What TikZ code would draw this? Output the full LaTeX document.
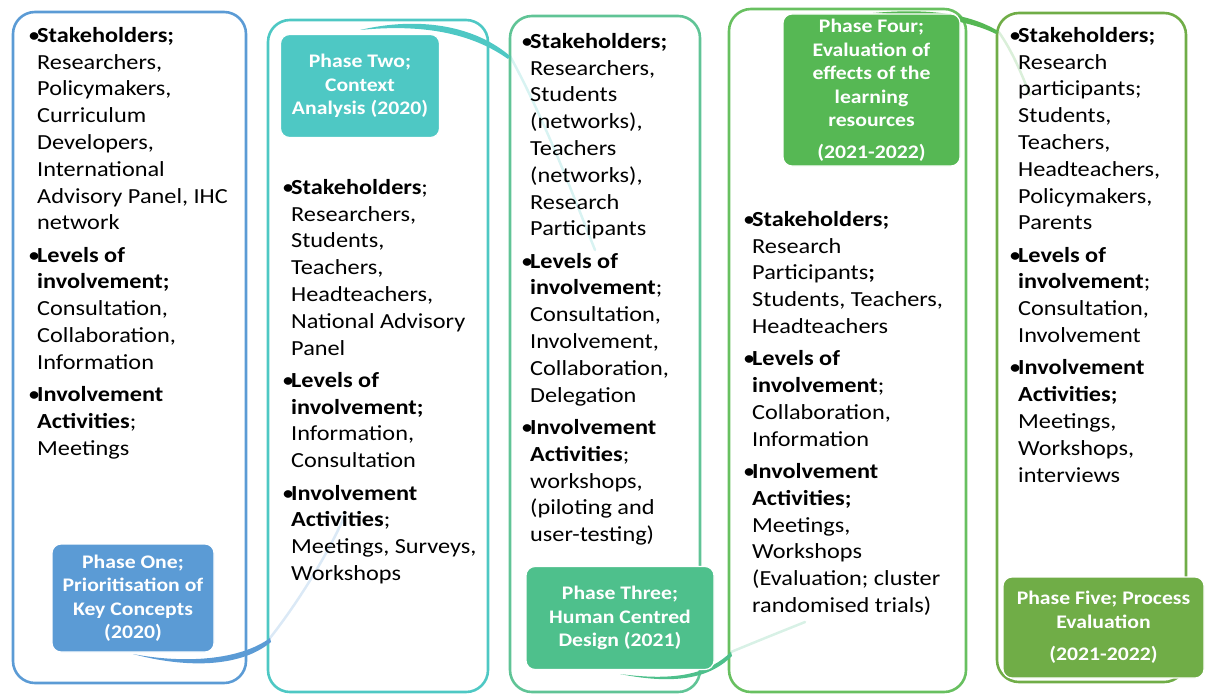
\documentclass[tikz,border=0pt]{standalone}
\usepackage{fontspec}
\setmainfont{Carlito}[FakeStretch=1.13]
\definecolor{cBlue}{RGB}{91,155,213}
\definecolor{cTeal}{RGB}{78,200,196}
\definecolor{cSea}{RGB}{78,192,140}
\definecolor{cGreen}{RGB}{86,184,84}
\definecolor{cLeaf}{RGB}{112,173,71}
\definecolor{cBoxThree}{RGB}{96,196,150}
\definecolor{cBoxFour}{RGB}{104,192,96}
\newcommand{\bul}{\makebox[9pt][l]{\textbullet}}
\newcommand{\ind}{\hspace*{9pt}}
\newcommand{\bodyfont}{\fontsize{21.5}{26.8}\selectfont}
\newcommand{\phasefont}{\fontsize{19.2}{23.5}\selectfont\bfseries}
\begin{document}
\begin{tikzpicture}[x=1pt,y=-1pt,
  container/.style={draw=#1, line width=2.6pt, rounded corners=22pt},
  phase/.style={fill=#1, draw=white, line width=1.2pt, rounded corners=9pt,
    text=white, font=\phasefont, align=center, inner sep=0pt},
  column/.style={anchor=north west, inner sep=0pt, align=left, font=\bodyfont},
  band/.style={fill=#1, draw=none},
  faint/.style={draw=#1, line width=2.5pt, opacity=0.22, line cap=round}]
\useasboundingbox (0,0) rectangle (1206,693);

% stage containers
\draw[container=cBlue] (13,12) rectangle (246,683);
\draw[container=cTeal] (268,20) rectangle (488,692);
\draw[container=cBoxThree] (510,16) rectangle (700,692);
\draw[container=cBoxFour] (729,9) rectangle (966,692);
\draw[container=cLeaf] (997,13) rectangle (1186,682);

% named ends of the linking bands
\coordinate (l1a) at (133,654);
\coordinate (l1b) at (270,638);
\coordinate (l2a) at (360,30);
\coordinate (l2b) at (510,56);
\coordinate (l3a) at (620,674);
\coordinate (l3b) at (731,652);
\coordinate (l4a) at (873,13);
\coordinate (l4b) at (998,31);
\coordinate (f1) at (345,515);
\coordinate (f2) at (595,250);
\coordinate (f3) at (805,622);
\coordinate (f4) at (1030,95);

% faint continuations inside the next stage
\draw[faint=cBlue] (l1b) .. controls (300,600) and (330,550) .. (f1);
\draw[faint=cTeal] (l2b) .. controls (545,120) and (575,200) .. (f2);
\draw[faint=cSea] (l3b) .. controls (760,640) and (785,630) .. (f3);
\draw[faint=cGreen] (l4b) .. controls (1012,50) and (1022,75) .. (f4);

% linking bands between phases
\fill[band=cBlue] (l1a) .. controls (185,664) and (240,660) .. (l1b)
  -- (271,642) .. controls (240,668) and (185,668) .. (l1a) -- cycle;
\fill[band=cTeal] (l2a) .. controls (420,16) and (475,26) .. (l2b)
  -- (508,59) .. controls (470,32) and (420,24) .. (l2a) -- cycle;
\fill[band=cSea] (l3a) .. controls (680,682) and (710,672) .. (l3b)
  -- (732,656) .. controls (712,676) and (680,686) .. (l3a) -- cycle;
\fill[band=cGreen] (l4a) .. controls (930,8) and (970,14) .. (l4b)
  -- (996,34) .. controls (968,20) and (930,16) .. (l4a) -- cycle;

% phase labels
\node[phase=cBlue, minimum width=162pt, minimum height=108pt] (p1) at (133,598)
  {Phase One;\\Prioritisation of\\Key Concepts\\(2020)};
\node[phase=cTeal, minimum width=159pt, minimum height=103pt] (p2) at (360,86)
  {Phase Two;\\Context\\Analysis (2020)};
\node[phase=cSea, minimum width=188pt, minimum height=103pt] (p3) at (620,618)
  {Phase Three;\\Human Centred\\Design (2021)};
\node[phase=cGreen, minimum width=177pt, minimum height=152pt] (p4) at (871.5,90)
  {Phase Four;\\Evaluation of\\effects of the\\learning\\resources\\[8pt](2021-2022)};
\node[phase=cLeaf, minimum width=201pt, minimum height=101pt] (p5) at (1103.5,627.5)
  {Phase Five; Process\\Evaluation\\[9pt](2021-2022)};

% stage details
\node[column] (t1) at (28,27) {%
\bul\textbf{Stakeholders;}\\
\ind Researchers,\\
\ind Policymakers,\\
\ind Curriculum\\
\ind Developers,\\
\ind International\\
\ind Advisory Panel, IHC\\
\ind network\\[5.5pt]
\bul\textbf{Levels of}\\
\ind\textbf{involvement;}\\
\ind Consultation,\\
\ind Collaboration,\\
\ind Information\\[5.5pt]
\bul\textbf{Involvement}\\
\ind\textbf{Activities};\\
\ind Meetings};

\node[column] (t2) at (282,179) {%
\bul\textbf{Stakeholders};\\
\ind Researchers,\\
\ind Students,\\
\ind Teachers,\\
\ind Headteachers,\\
\ind National Advisory\\
\ind Panel\\[5.5pt]
\bul\textbf{Levels of}\\
\ind\textbf{involvement;}\\
\ind Information,\\
\ind Consultation\\[5.5pt]
\bul\textbf{Involvement}\\
\ind\textbf{Activities};\\
\ind Meetings, Surveys,\\
\ind Workshops};

\node[column] (t3) at (521,33) {%
\bul\textbf{Stakeholders;}\\
\ind Researchers,\\
\ind Students\\
\ind (networks),\\
\ind Teachers\\
\ind (networks),\\
\ind Research\\
\ind Participants\\[5.5pt]
\bul\textbf{Levels of}\\
\ind\textbf{involvement};\\
\ind Consultation,\\
\ind Involvement,\\
\ind Collaboration,\\
\ind Delegation\\[5.5pt]
\bul\textbf{Involvement}\\
\ind\textbf{Activities};\\
\ind workshops,\\
\ind (piloting and\\
\ind user-testing)};

\node[column] (t4) at (743,211) {%
\bul\textbf{Stakeholders;}\\
\ind Research\\
\ind Participants\textbf{;}\\
\ind Students, Teachers,\\
\ind Headteachers\\[5.5pt]
\bul\textbf{Levels of}\\
\ind\textbf{involvement};\\
\ind Collaboration,\\
\ind Information\\[5.5pt]
\bul\textbf{Involvement}\\
\ind\textbf{Activities;}\\
\ind Meetings,\\
\ind Workshops\\
\ind (Evaluation; cluster\\
\ind randomised trials)};

\node[column] (t5) at (1009,27) {%
\bul\textbf{Stakeholders;}\\
\ind Research\\
\ind participants;\\
\ind Students,\\
\ind Teachers,\\
\ind Headteachers,\\
\ind Policymakers,\\
\ind Parents\\[5.5pt]
\bul\textbf{Levels of}\\
\ind\textbf{involvement};\\
\ind Consultation,\\
\ind Involvement\\[5.5pt]
\bul\textbf{Involvement}\\
\ind\textbf{Activities;}\\
\ind Meetings,\\
\ind Workshops,\\
\ind interviews};
\end{tikzpicture}
\end{document}
